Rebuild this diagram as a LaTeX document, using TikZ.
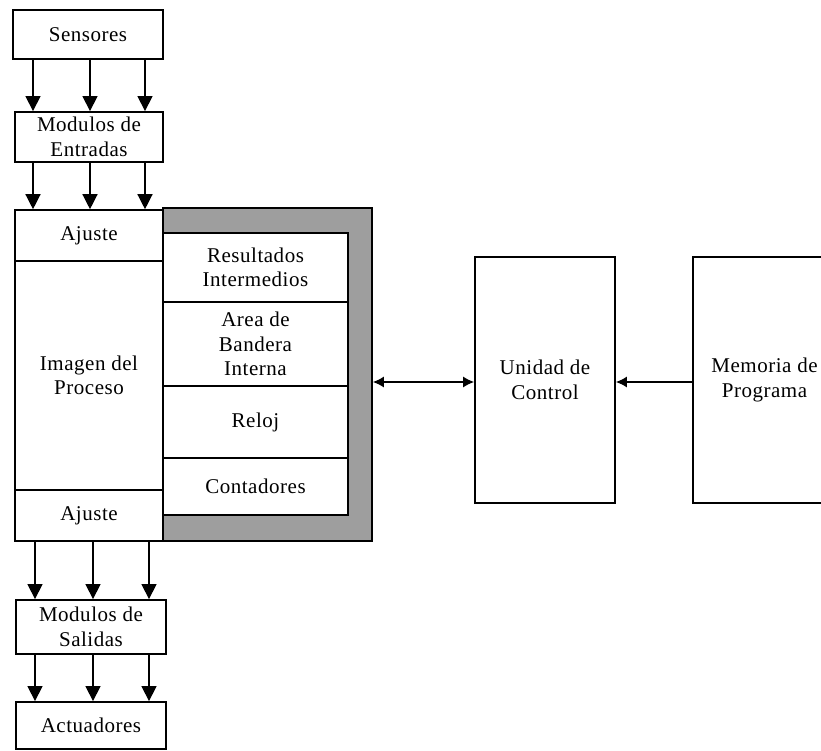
\documentclass[tikz,border=0pt]{standalone}
\usepackage{fontspec}
\setmainfont[LetterSpace=2.5]{Liberation Serif}
\usetikzlibrary{arrows.meta}
\begin{document}
\begin{tikzpicture}[x=1pt,y=-1pt,
  box/.style={draw=black,line width=1.8pt,rectangle,inner sep=0pt,align=center,
    font=\fontsize{21}{24.5}\selectfont},
  cell/.style={draw=black,line width=1.6pt,rectangle,inner sep=0pt,align=center,
    font=\fontsize{21}{24.5}\selectfont},
  arr/.style={line width=1.3pt,-{Triangle[length=15pt,width=15pt]}},
  harr/.style={line width=1.2pt,{Latex[length=11pt,width=11pt]}-{Latex[length=11pt,width=11pt]}},
  harrone/.style={line width=1.2pt,-{Latex[length=11pt,width=11pt]}}]
\useasboundingbox (0,0) rectangle (821,751);
\clip (0,0) rectangle (821,751);
% shaded memory frame
\node[box,fill=black!38,minimum width=209pt,minimum height=333pt] (frame) at (267.5,374.5) {};
\node[cell,fill=white,minimum width=185pt,minimum height=69pt] (res) at (255.5,267.5) {Resultados\\Intermedios};
\node[cell,fill=white,minimum width=185pt,minimum height=84pt] (area) at (255.5,344) {Area de\\Bandera\\Interna};
\node[cell,fill=white,minimum width=185pt,minimum height=72pt] (reloj) at (255.5,422) {Reloj};
\node[cell,fill=white,minimum width=185pt,minimum height=57pt] (cont) at (255.5,486.5) {Contadores};
% left column
\node[box,minimum width=150pt,minimum height=49pt] (sens) at (88,34.5) {Sensores};
\node[box,minimum width=148pt,minimum height=50pt] (ent) at (89,137) {Modulos de\\Entradas};
\node[cell,fill=white,minimum width=148pt,minimum height=51pt] (aj1) at (89,235.5) {Ajuste};
\node[cell,fill=white,minimum width=148pt,minimum height=229pt] (img) at (89,375.5) {Imagen del\\Proceso};
\node[cell,fill=white,minimum width=148pt,minimum height=51pt] (aj2) at (89,515.5) {Ajuste};
\node[box,minimum width=150pt,minimum height=54pt] (sal) at (91,627) {Modulos de\\Salidas};
\node[box,minimum width=150pt,minimum height=47pt] (act) at (91,725.5) {Actuadores};
% right boxes
\node[box,minimum width=140pt,minimum height=246pt] (uc) at (545,380) {Unidad de\\Control};
\node[box,minimum width=143pt,minimum height=246pt] (mp) at (764.5,380) {Memoria de\\Programa};
% arrows
\foreach \x in {33,90,145}{
  \draw[arr] (sens.south -| \x,0) -- (ent.north -| \x,0);
  \draw[arr] (ent.south -| \x,0) -- (aj1.north -| \x,0);
}
\foreach \x in {35,93,149}{
  \draw[arr] (aj2.south -| \x,0) -- (sal.north -| \x,0);
  \draw[arr] (sal.south -| \x,0) -- (act.north -| \x,0);
}
\draw[harr] (frame.east |- 0,382) -- (uc.west |- 0,382);
\draw[harrone] (mp.west |- 0,382) -- (uc.east |- 0,382);
\end{tikzpicture}
\end{document}
